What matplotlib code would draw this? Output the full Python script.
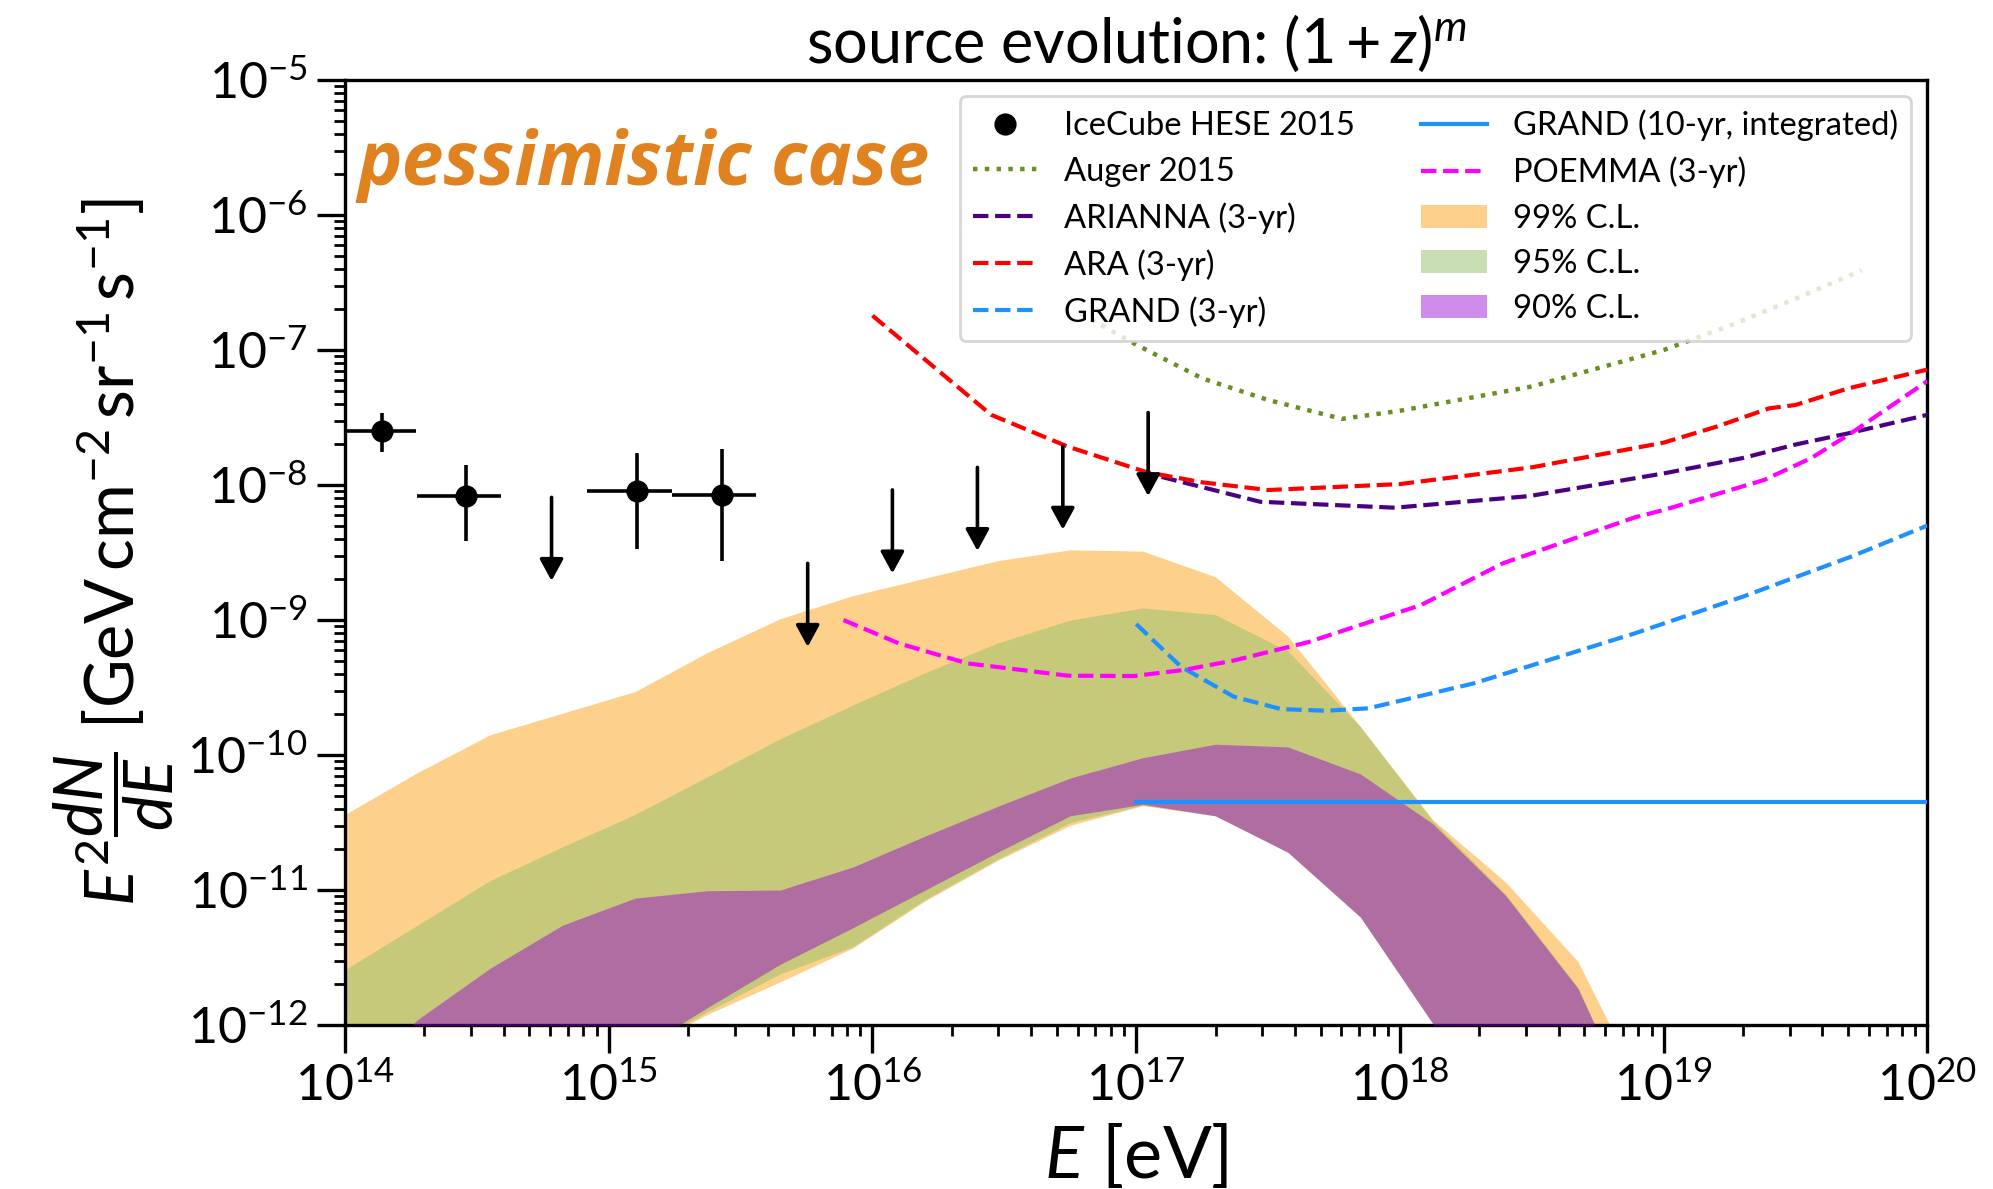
import numpy as np
import matplotlib as mpl
import matplotlib.pyplot as plt
from matplotlib.lines import Line2D
from matplotlib.patches import Patch
from matplotlib.ticker import LogLocator, NullFormatter

mpl.rcParams['font.family'] = 'Lato'
mpl.rcParams['mathtext.fontset'] = 'custom'
mpl.rcParams['mathtext.rm'] = 'Lato'
mpl.rcParams['mathtext.it'] = 'Lato:italic'
mpl.rcParams['mathtext.bf'] = 'Lato:bold'
mpl.rcParams['mathtext.sf'] = 'Lato'

# IceCube HESE 2015 (E in eV, flux in GeV cm^-2 sr^-1 s^-1)
hese_E = [1.377e14, 2.88e14, 1.28e15, 2.69e15]
hese_E_lo = [8.9e13, 1.88e14, 8.24e14, 1.74e15]
hese_E_hi = [1.86e14, 3.91e14, 1.74e15, 3.63e15]
hese_F = [2.52e-8, 8.3e-9, 9.0e-9, 8.5e-9]
hese_F_lo = [1.77e-8, 3.85e-9, 3.36e-9, 2.73e-9]
hese_F_hi = [3.40e-8, 1.41e-8, 1.72e-8, 1.84e-8]

# HESE upper limits
ul_E = [6.07e14, 5.68e15, 1.19e16, 2.50e16, 5.27e16, 1.11e17]
ul_F = [8.1e-9, 2.63e-9, 9.2e-9, 1.35e-8, 1.94e-8, 3.44e-8]

# experiment sensitivities (log10 E, log10 flux)
auger_logE = [16.79, 17.0, 17.25, 17.5, 17.78, 18.0, 18.5, 19.0, 19.25, 19.5, 19.75]
auger_logF = [-6.73, -6.96, -7.21, -7.37, -7.51, -7.45, -7.27, -7.0, -6.82, -6.62, -6.41]

arianna_logE = [17.015, 17.47, 17.98, 18.49, 19.0, 19.3, 19.5, 19.7, 20.0]
arianna_logF = [-7.90, -8.124, -8.168, -8.082, -7.914, -7.80, -7.70, -7.617, -7.48]

ara_logE = [16.0, 16.45, 16.74, 17.04, 17.25, 17.5, 18.0, 18.5, 19.0, 19.2, 19.4, 19.5, 19.7, 20.0]
ara_logF = [-6.745, -7.48, -7.715, -7.905, -7.98, -8.037, -7.993, -7.869, -7.686, -7.568,
            -7.432, -7.407, -7.284, -7.145]

grand3_logE = [17.0, 17.17, 17.37, 17.55, 17.72, 17.88, 18.28, 18.89, 19.3, 19.71, 20.0]
grand3_logF = [-9.03, -9.346, -9.568, -9.66, -9.672, -9.654, -9.469, -9.099, -8.827, -8.531, -8.30]

grand10_E = [1e17, 1e20]
grand10_F = [4.5e-11, 4.5e-11]

poemma_logE = [15.89, 16.10, 16.36, 16.74, 16.99, 17.18, 17.37, 17.65, 18.08, 18.39, 18.89,
               19.0, 19.38, 19.56, 19.71, 20.0]
poemma_logF = [-9.0, -9.173, -9.321, -9.412, -9.415, -9.37, -9.30, -9.165, -8.889, -8.58, -8.24,
               -8.185, -7.963, -7.80, -7.617, -7.23]

# allowed flux bands from the fit
band_logE = [14.0, 14.275, 14.55, 14.825, 15.1, 15.375, 15.65, 15.925, 16.2, 16.475,
             16.75, 17.025, 17.3, 17.575, 17.85, 18.125, 18.4, 18.675, 18.95]
cl99_hi = [-10.44, -10.13, -9.85, -9.69, -9.53, -9.24, -8.99, -8.82, -8.69, -8.56,
           -8.48, -8.49, -8.68, -9.12, -9.79, -10.48, -10.94, -11.53, -12.6]
cl99_lo = [-14.0, -14.0, -14.0, -13.5, -12.2, -11.92, -11.68, -11.43, -11.08, -10.78,
           -10.52, -10.375, -10.45, -10.72, -11.20, -11.99, -12.9, -13.5, -14.0]
cl95_hi = [-11.59, -11.26, -10.93, -10.68, -10.44, -10.16, -9.88, -9.63, -9.39, -9.17,
           -9.00, -8.91, -8.96, -9.23, -9.79, -10.49, -11.03, -11.72, -12.9]
cl95_lo = [-14.0, -14.0, -14.0, -13.5, -12.2, -11.90, -11.62, -11.42, -11.07, -10.77,
           -10.50, -10.37, -10.45, -10.72, -11.20, -11.99, -12.9, -13.5, -14.0]
cl90_hi = [-12.5, -11.96, -11.58, -11.26, -11.06, -11.005, -11.0, -10.83, -10.60, -10.38,
           -10.17, -10.02, -9.92, -9.94, -10.14, -10.51, -11.04, -11.73, -12.9]
cl90_lo = [-14.0, -14.0, -14.0, -13.5, -12.2, -11.87, -11.55, -11.28, -11.0, -10.72,
           -10.45, -10.365, -10.45, -10.72, -11.20, -11.99, -12.9, -13.5, -14.0]

c99 = '#FDD08C'
c95 = (145/255, 193/255, 105/255)
c90 = 'darkviolet'

fig = plt.figure(figsize=(9.965, 5.945), dpi=200)
ax = fig.add_axes([0.1731, 0.1379, 0.7940, 0.7948])

bE = 10**np.array(band_logE)
ax.fill_between(bE, 10**np.array(cl99_lo), 10**np.array(cl99_hi), color=c99, lw=0, zorder=1)
ax.fill_between(bE, 10**np.array(cl95_lo), 10**np.array(cl95_hi), color=c95, alpha=0.5, lw=0, zorder=2)
ax.fill_between(bE, 10**np.array(cl90_lo), 10**np.array(cl90_hi), color=c90, alpha=0.45, lw=0, zorder=3)

ax.plot(10**np.array(auger_logE), 10**np.array(auger_logF), ':', color='olivedrab', lw=1.6, zorder=4)
ax.plot(10**np.array(arianna_logE), 10**np.array(arianna_logF), '--', color='indigo', lw=1.5, zorder=4)
ax.plot(10**np.array(ara_logE), 10**np.array(ara_logF), '--', color='red', lw=1.5, zorder=4)
ax.plot(10**np.array(grand3_logE), 10**np.array(grand3_logF), '--', color='dodgerblue', lw=1.5, zorder=4)
ax.plot(grand10_E, grand10_F, '-', color='dodgerblue', lw=1.5, zorder=4)
ax.plot(10**np.array(poemma_logE), 10**np.array(poemma_logF), '--', color='magenta', lw=1.5, zorder=4)

hE = np.array(hese_E)
hF = np.array(hese_F)
ax.errorbar(hE, hF,
            xerr=[hE - np.array(hese_E_lo), np.array(hese_E_hi) - hE],
            yerr=[hF - np.array(hese_F_lo), np.array(hese_F_hi) - hF],
            fmt='o', color='k', ms=7, elinewidth=1.3, capsize=0, zorder=5)

for e, f in zip(ul_E, ul_F):
    ax.annotate('', xy=(e, f / 4.15), xytext=(e, f),
                arrowprops=dict(arrowstyle='-|>,head_length=0.33,head_width=0.18',
                                mutation_scale=20, lw=1.3, color='k',
                                shrinkA=0, shrinkB=0), zorder=5)

ax.set_xscale('log')
ax.set_yscale('log')
ax.set_xlim(1e14, 1e20)
ax.set_ylim(1e-12, 1e-5)
ax.xaxis.set_major_locator(LogLocator(base=10, numticks=20))
ax.yaxis.set_major_locator(LogLocator(base=10, numticks=20))
ax.xaxis.set_minor_locator(LogLocator(base=10, subs=np.arange(2, 10), numticks=100))
ax.yaxis.set_minor_locator(LogLocator(base=10, subs=np.arange(2, 10), numticks=100))
ax.xaxis.set_minor_formatter(NullFormatter())
ax.yaxis.set_minor_formatter(NullFormatter())
ax.tick_params(which='major', length=10, width=1.2, labelsize=18)
ax.tick_params(which='minor', length=4, width=1.0)
for s in ax.spines.values():
    s.set_linewidth(1.2)

ax.set_xlabel(r'$E\ [\mathrm{eV}]$', fontsize=26)
ax.set_ylabel(r'$E^2\dfrac{dN}{dE}\ [\mathrm{GeV\,cm^{-2}\,sr^{-1}\,s^{-1}}]$', fontsize=24)
ax.set_title(r'source evolution: $(1+z)^m$', fontsize=22)

ax.text(0.008, 0.91, 'pessimistic case', transform=ax.transAxes, fontsize=27,
        fontweight='bold', fontstyle='italic', color='#E0821F', va='center',
        family='Open Sans')

handles = [
    Line2D([], [], color='k', marker='o', ls='none', ms=7, label='IceCube HESE 2015'),
    Line2D([], [], color='olivedrab', ls=':', lw=1.6, label='Auger 2015'),
    Line2D([], [], color='indigo', ls='--', lw=1.5, label='ARIANNA (3-yr)'),
    Line2D([], [], color='red', ls='--', lw=1.5, label='ARA (3-yr)'),
    Line2D([], [], color='dodgerblue', ls='--', lw=1.5, label='GRAND (3-yr)'),
    Line2D([], [], color='dodgerblue', ls='-', lw=1.5, label='GRAND (10-yr, integrated)'),
    Line2D([], [], color='magenta', ls='--', lw=1.5, label='POEMMA (3-yr)'),
    Patch(facecolor=c99, label='99% C.L.'),
    Patch(facecolor=c95, alpha=0.5, label='95% C.L.'),
    Patch(facecolor=c90, alpha=0.45, label='90% C.L.'),
]
leg = ax.legend(handles=handles, ncol=2, loc='upper right', fontsize=11.8,
                labelspacing=0.47, framealpha=0.8)
leg.set_zorder(10)

fig.savefig('out.png', dpi=200)
